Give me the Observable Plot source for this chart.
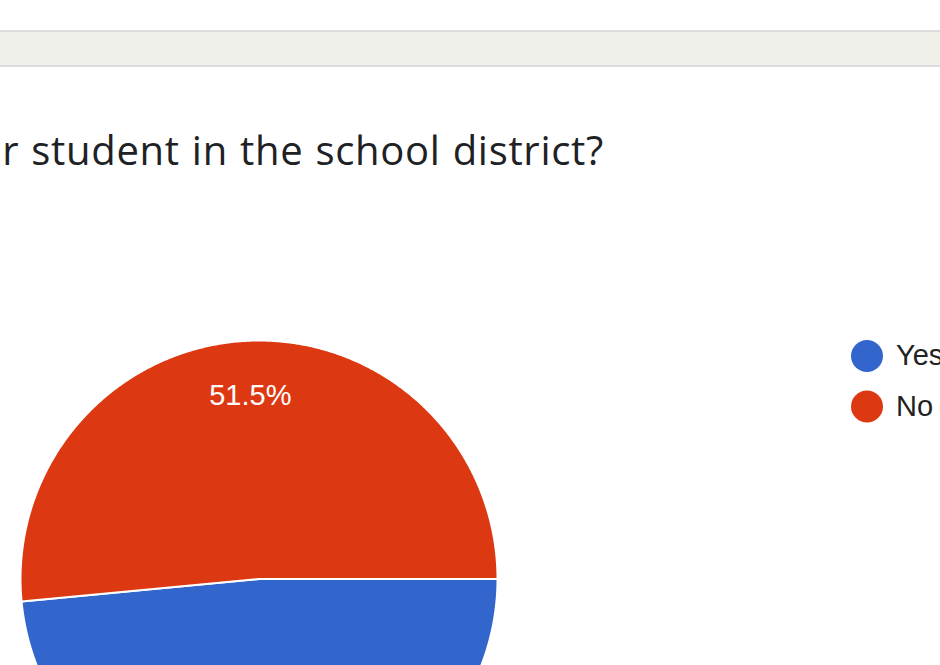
<!DOCTYPE html>
<html>
<head>
<meta charset="utf-8">
<script src="https://cdn.jsdelivr.net/npm/d3@7"></script>
<script src="https://cdn.jsdelivr.net/npm/@observablehq/plot@0.6"></script>
<style>
  html, body { margin: 0; padding: 0; width: 940px; height: 665px; overflow: hidden; background: #fff; }
  #bar { position: absolute; left: 0; top: 30px; width: 940px; height: 33px; background: #f0f0ea;
         border-top: 2px solid #dadce0; border-bottom: 2px solid #dadce0; }
  #title { position: absolute; right: 336px; top: 122px; white-space: nowrap; text-align: right;
           font-family: "Open Sans", Roboto, sans-serif; font-size: 40px; color: #202124; line-height: 56px;
           letter-spacing: 0.7px; word-spacing: 1px; }
  #chart { position: absolute; left: 0; top: 0; }
</style>
</head>
<body>
<div id="bar"></div>
<div id="title">r student in the school district?</div>
<div id="chart"></div>
<script>
// ---- data ----
const categories = ["Yes", "No"];
const values = [48.5, 51.5];
const colors = ["#3366cc", "#dc3912"];
const pieStartDeg = 90;          // first slice starts at 3 o'clock, clockwise
const labelRadius = 0.77;        // fraction of radius for slice labels

// ---- layout (pixels) ----
const W = 940, H = 665;
const cx = 258.5, cy = 578.5, R = 238.5;
const legendPx = {x: 866.5, y0: 355.5, step: 50.5};

// slices via d3.pie
const start = pieStartDeg * Math.PI / 180;
const arcs = d3.pie().sort(null).startAngle(start).endAngle(start + 2 * Math.PI)(values);
const total = d3.sum(values);

const outline = [];
arcs.forEach((a, i) => {
  const cat = categories[i];
  outline.push({slice: cat, x: 0, y: 0});
  const n = Math.max(2, Math.ceil((a.endAngle - a.startAngle) / 0.005));
  for (let k = 0; k <= n; k++) {
    const t = a.startAngle + (a.endAngle - a.startAngle) * k / n;
    outline.push({slice: cat, x: Math.sin(t), y: Math.cos(t)});
  }
});

const labels = arcs.map((a, i) => {
  const m = (a.startAngle + a.endAngle) / 2;
  return {slice: categories[i], x: labelRadius * Math.sin(m), y: labelRadius * Math.cos(m),
          text: (values[i] / total * 100).toFixed(1) + "%"};
});

// map pixel layout to data units (radius = 1)
const xDomain = [(0 - cx) / R, (W - cx) / R];
const yDomain = [-(H - cy) / R, cy / R];
const legend = categories.map((c, i) => ({
  slice: c,
  x: (legendPx.x - cx) / R,
  y: (cy - (legendPx.y0 + i * legendPx.step)) / R
}));

const plot = Plot.plot({
  width: W, height: H,
  margin: 0,
  x: {domain: xDomain, axis: null},
  y: {domain: yDomain, axis: null},
  color: {domain: categories, range: colors},
  style: {background: "transparent", overflow: "hidden"},
  marks: [
    Plot.line(outline, {x: "x", y: "y", z: "slice", fill: "slice", stroke: "white", strokeWidth: 2,
                        curve: "linear-closed", strokeLinejoin: "round"}),
    Plot.text(labels, {x: "x", y: "y", text: "text", fill: "white", fontSize: 29,
                       fontFamily: "Liberation Sans, Arial, sans-serif", textAnchor: "middle", lineAnchor: "middle"}),
    Plot.dot(legend, {x: "x", y: "y", r: 16, fill: "slice"}),
    Plot.text(legend, {x: "x", y: "y", text: "slice", dx: 29, textAnchor: "start", lineAnchor: "middle",
                       fontSize: 29, fill: "#222222", fontFamily: "Liberation Sans, Arial, sans-serif"})
  ]
});
document.getElementById("chart").appendChild(plot);
</script>
</body>
</html>
